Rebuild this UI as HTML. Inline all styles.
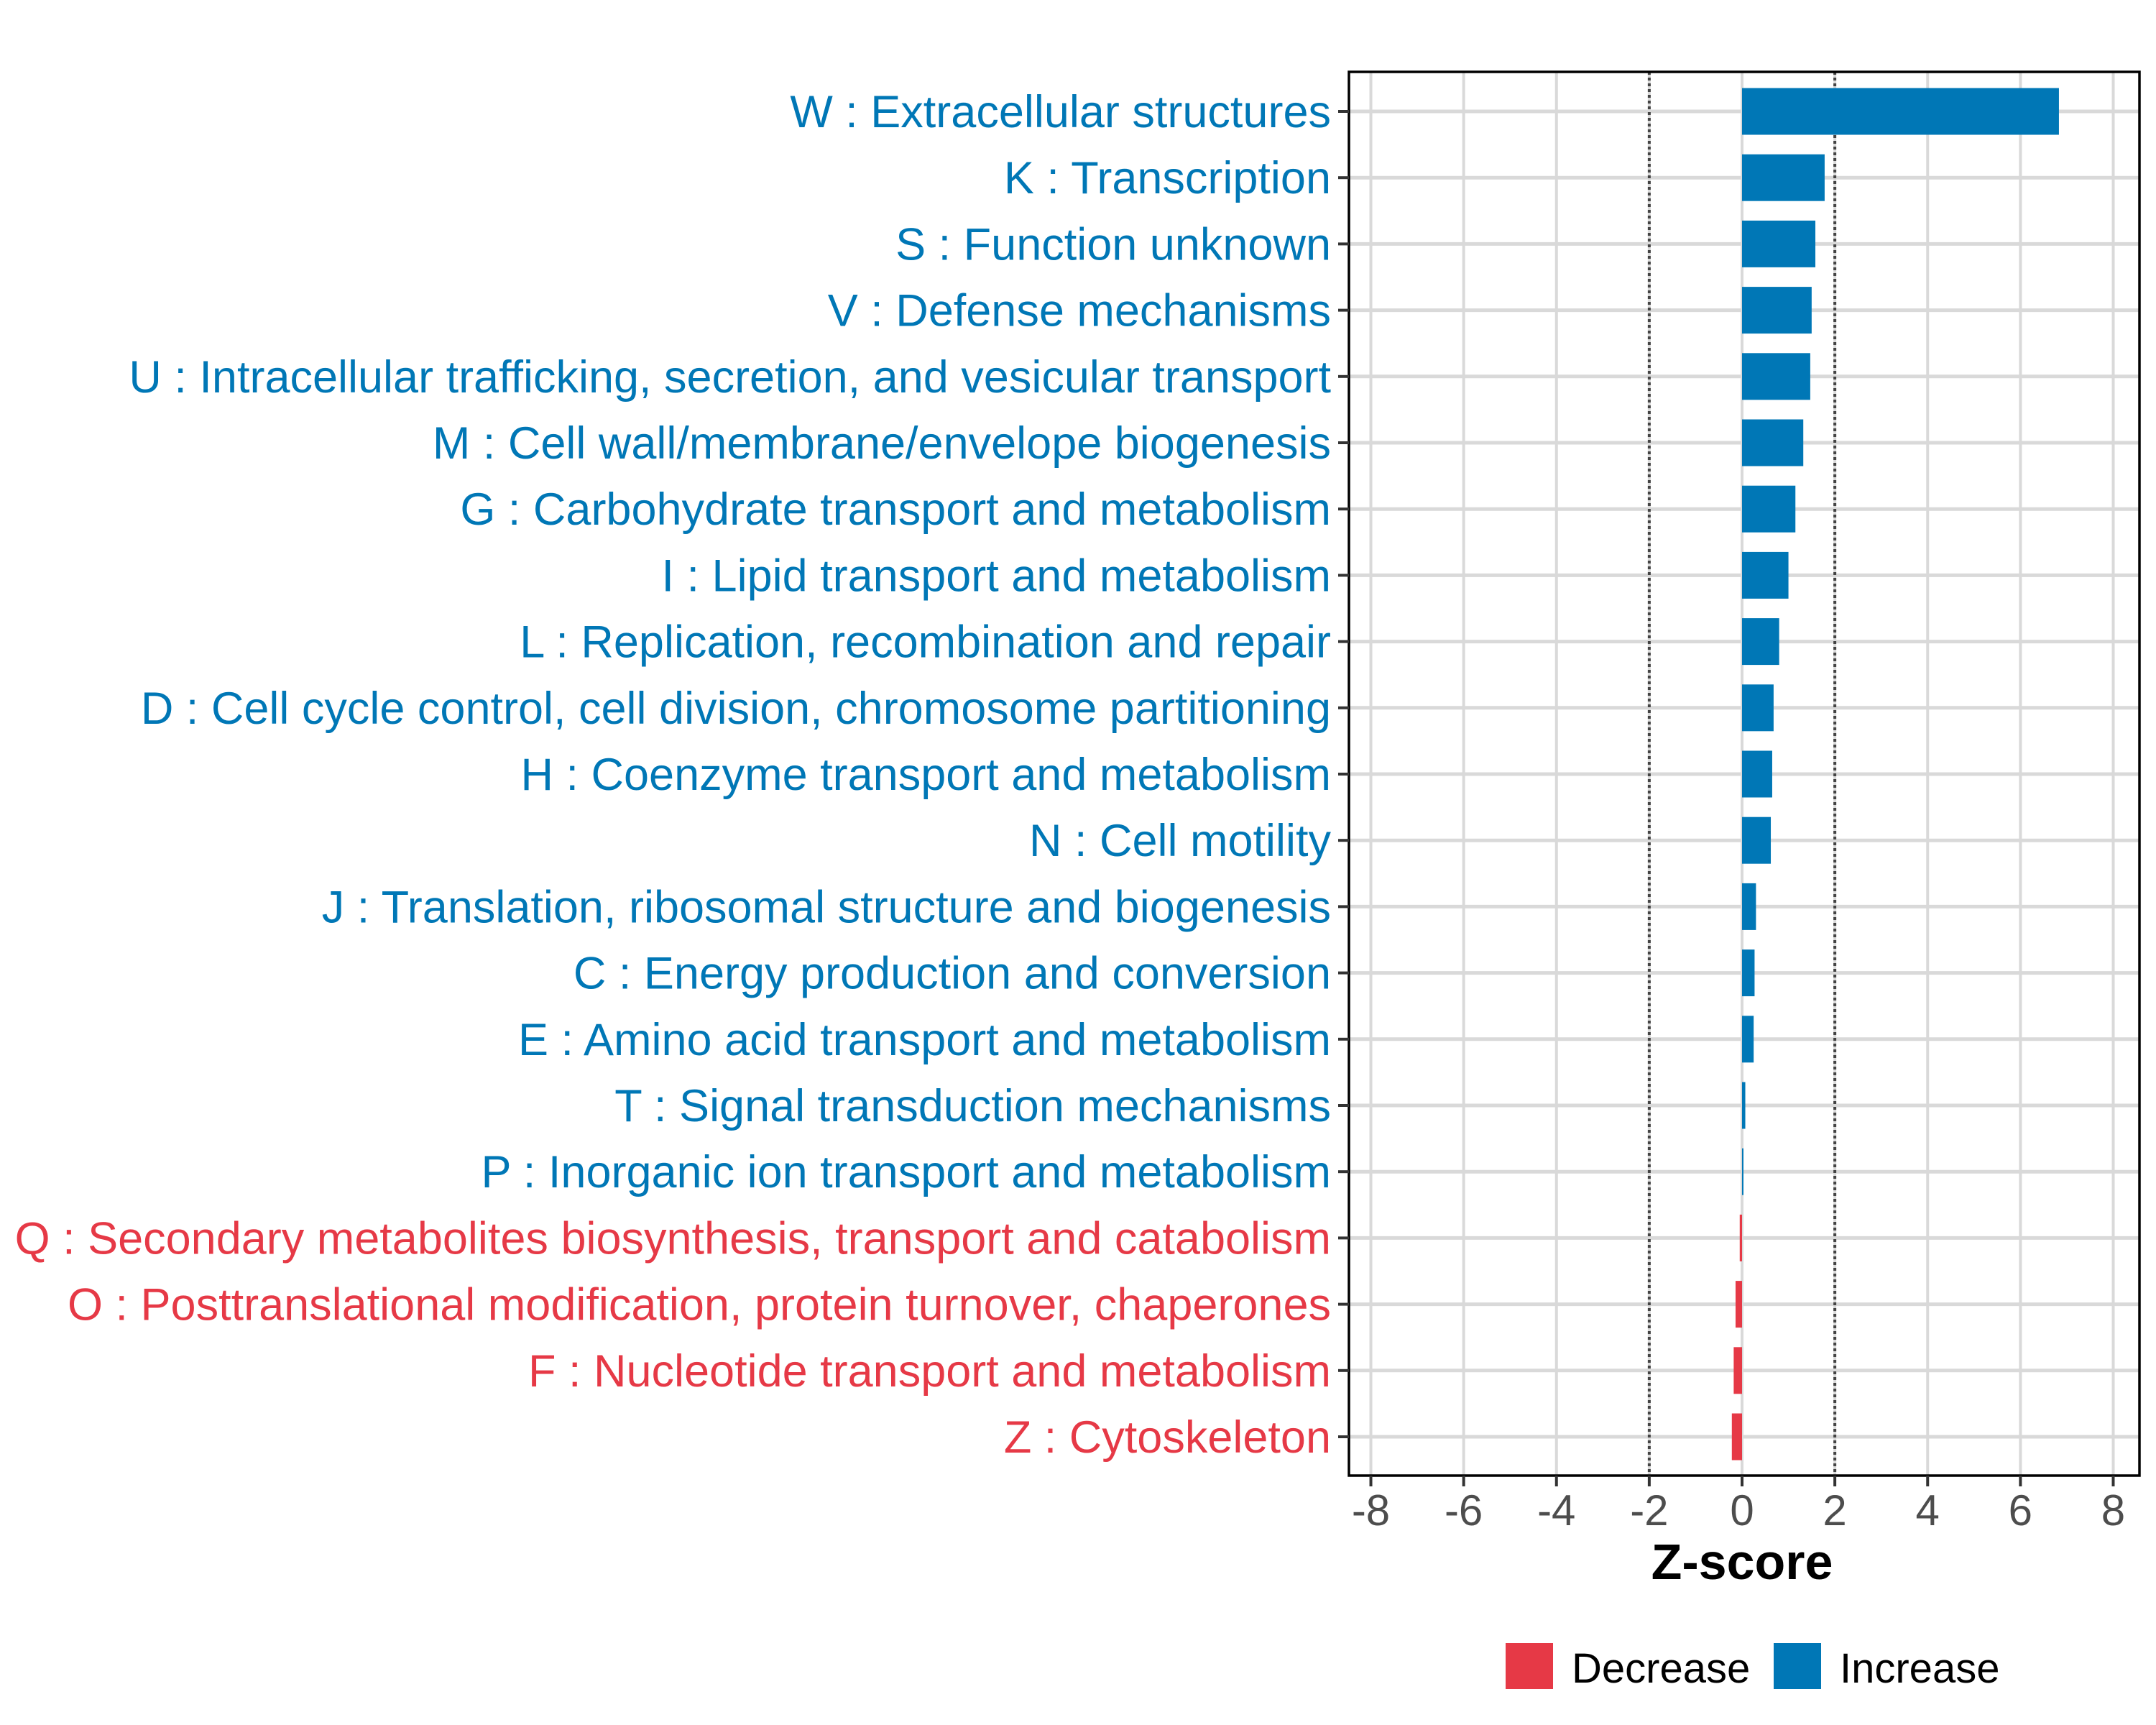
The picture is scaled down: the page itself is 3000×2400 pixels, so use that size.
<!DOCTYPE html>
<html><head><meta charset="utf-8"><style>
html,body{margin:0;padding:0;background:#fff;}
svg{display:block;font-family:"Liberation Sans",Arial,sans-serif;}
</style></head><body>
<svg id="chart" width="3000" height="2400" viewBox="0 0 3000 2400" xmlns="http://www.w3.org/2000/svg"></svg>
<script>
const categories = [
"W : Extracellular structures",
"K : Transcription",
"S : Function unknown",
"V : Defense mechanisms",
"U : Intracellular trafficking, secretion, and vesicular transport",
"M : Cell wall/membrane/envelope biogenesis",
"G : Carbohydrate transport and metabolism",
"I : Lipid transport and metabolism",
"L : Replication, recombination and repair",
"D : Cell cycle control, cell division, chromosome partitioning",
"H : Coenzyme transport and metabolism",
"N : Cell motility",
"J : Translation, ribosomal structure and biogenesis",
"C : Energy production and conversion",
"E : Amino acid transport and metabolism",
"T : Signal transduction mechanisms",
"P : Inorganic ion transport and metabolism",
"Q : Secondary metabolites biosynthesis, transport and catabolism",
"O : Posttranslational modification, protein turnover, chaperones",
"F : Nucleotide transport and metabolism",
"Z : Cytoskeleton"];
const zscores = [6.83,1.78,1.58,1.5,1.47,1.32,1.15,1.0,0.8,0.68,0.65,0.62,0.3,0.27,0.25,0.07,0.03,-0.05,-0.14,-0.18,-0.22];
const xTicks = [-8,-6,-4,-2,0,2,4,6,8];
const thresholds = [-2,2];

const BLUE="#0077B6", RED="#E63946";
const svg=document.getElementById('chart');
const NS="http://www.w3.org/2000/svg";
const PL=1877,PR=2977,PT=100,PB=2053;
const X0=2424, XU=64.56;
function xs(v){return X0+v*XU;}
const ROW0=155, ROWSTEP=92.2;
function ys(i){return ROW0+i*ROWSTEP;}
function mk(tag,attrs){const e=document.createElementNS(NS,tag);for(const k in attrs)e.setAttribute(k,attrs[k]);svg.appendChild(e);return e;}

const bg=mk('rect',{x:PL,y:PT,width:PR-PL,height:PB-PT,fill:'#fff'});


xTicks.forEach(t=>{
  const g=mk('line',{x1:xs(t),x2:xs(t),y1:PT,y2:PB,stroke:'#d9d9d9','stroke-width':4});
  
  
});
categories.forEach((c,i)=>{
  const g=mk('line',{x1:PL,x2:PR,y1:ys(i),y2:ys(i),stroke:'#d9d9d9','stroke-width':5});
  
  
});
thresholds.forEach(t=>{
  const l=mk('line',{x1:xs(t),x2:xs(t),y1:PT,y2:PB,stroke:'#444','stroke-width':4,'stroke-dasharray':'4 4'});
  
  
});
const BH=65;
zscores.forEach((v,i)=>{
  const x=Math.min(xs(0),xs(v)), w=Math.abs(xs(v)-xs(0));
  const b=mk('rect',{x:x,y:ys(i)-BH/2,width:Math.max(w,1),height:BH,fill:v>=0?BLUE:RED});
  
  
});
const br=mk('rect',{x:PL,y:PT,width:PR-PL,height:PB-PT,fill:'none',stroke:'#000','stroke-width':3.5});


categories.forEach((c,i)=>{
  const t=mk('line',{x1:PL-15,x2:PL,y1:ys(i),y2:ys(i),stroke:'#333','stroke-width':4});
  
  
  const lab=mk('text',{x:1852,y:ys(i)+22,'text-anchor':'end','font-size':63,fill:zscores[i]>=0?BLUE:RED});
  lab.textContent=c;
  
  
});
xTicks.forEach(t=>{
  const tk=mk('line',{x1:xs(t),x2:xs(t),y1:PB,y2:PB+15,stroke:'#333','stroke-width':4});
  
  
  const lab=mk('text',{x:xs(t),y:2122,'text-anchor':'middle','font-size':60,fill:'#4d4d4d'});
  lab.textContent=String(t);
  
  
});
const xt=mk('text',{x:X0,y:2197,'text-anchor':'middle','font-size':70,'font-weight':'bold',fill:'#000'});
xt.textContent='Z-score';


const legend=[["Decrease",RED,2095,2187],["Increase",BLUE,2468,2560]];
legend.forEach(l=>{
  const r=mk('rect',{x:l[2],y:2286,width:66,height:64,fill:l[1]});
  
  
  const t=mk('text',{x:l[3],y:2341,'font-size':58,fill:'#000'});
  t.textContent=l[0];
  
  
});
</script>
</body></html>
